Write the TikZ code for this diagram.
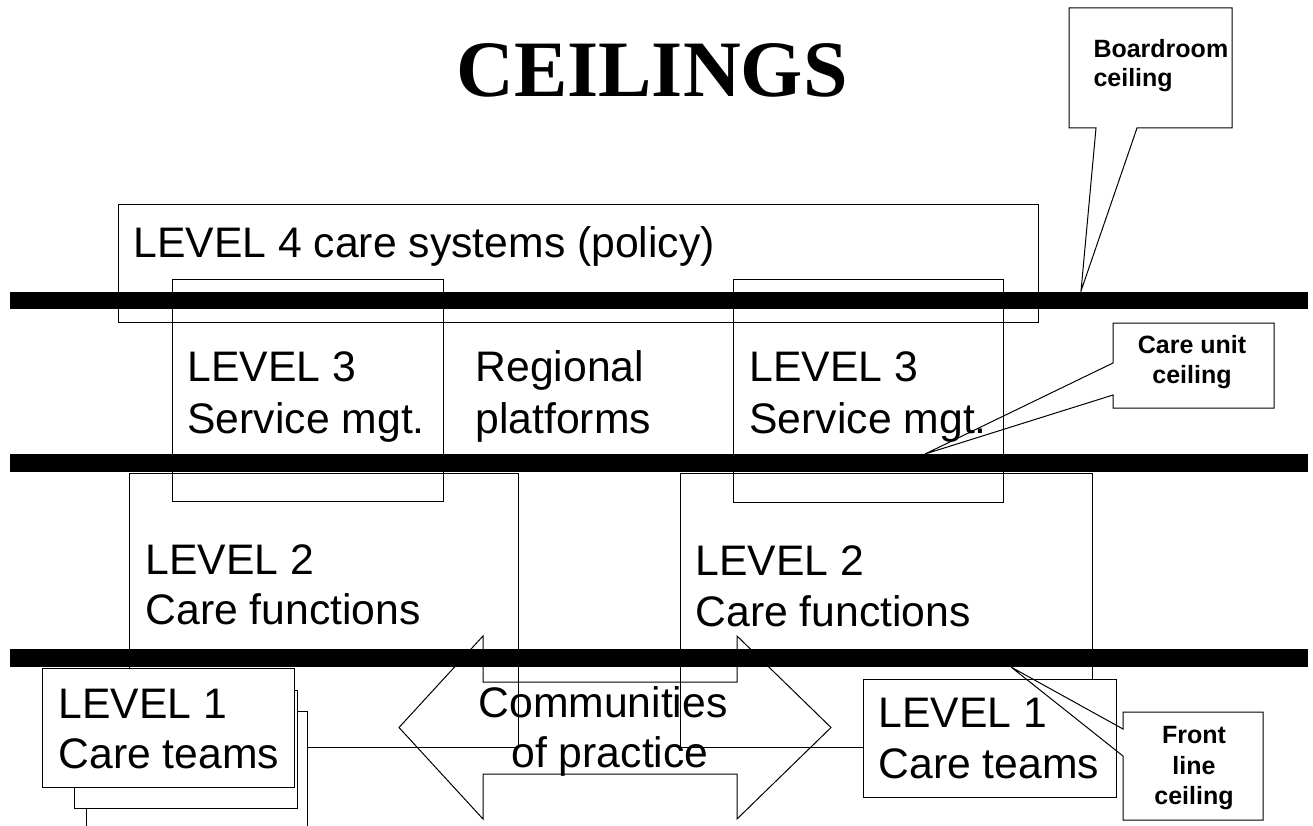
\documentclass[tikz,border=0pt]{standalone}
\usepackage{fontspec}
\setmainfont{Liberation Sans}
\newfontfamily\titlefont{Liberation Serif}
\begin{document}
\begin{tikzpicture}[x=1pt,y=-1pt,line width=1pt,
  box/.style={draw=black,line width=1pt,inner sep=0pt,outer sep=0pt,anchor=north west},
  wbox/.style={box,fill=white},
  bar/.style={fill=black,draw=none},
  big/.style={font=\fontsize{42.7}{51}\selectfont,inner sep=0pt,anchor=base west},
  bigc/.style={big,anchor=base},
  callt/.style={font=\bfseries\fontsize{25}{29}\selectfont,inner sep=0pt,anchor=base},
  callout/.style={draw=black,line width=1pt,line join=miter}]
\useasboundingbox (0,0) rectangle (1313,826);
% title
\node[font=\titlefont\bfseries\fontsize{80}{90}\selectfont,inner sep=0pt,anchor=base] (title) at (652,97) {CEILINGS};
% level boxes
\node[box,minimum width=920pt,minimum height=117pt] (l4) at (118,205) {};
\node[box,minimum width=271pt,minimum height=222pt] (l3a) at (172,279) {};
\node[box,minimum width=270pt,minimum height=223pt] (l3b) at (733,279) {};
\node[box,minimum width=389pt,minimum height=274pt] (l2a) at (129,473) {};
\node[box,minimum width=412pt,minimum height=274pt] (l2b) at (680,473) {};
% double arrow
\draw[line join=miter] (399,727.5) -- (483,636) -- (483,682) -- (737,682) -- (737,636)
  -- (831,727.5) -- (737,819) -- (737,774) -- (483,774) -- (483,819) -- cycle;
% ceilings (bars)
\fill[bar] (10,292) rectangle (1308,309);
\fill[bar] (10,454) rectangle (1308,472);
\fill[bar] (10,649) rectangle (1308,667);
% level 1 boxes
\node[wbox,minimum width=221pt,minimum height=130pt] (l1c) at (86,711) {};
\node[wbox,minimum width=223pt,minimum height=118pt] (l1b) at (74,690) {};
\node[wbox,minimum width=252pt,minimum height=119pt] (l1a) at (42,668) {};
\node[wbox,minimum width=253pt,minimum height=118pt] (l1r) at (863,679) {};
% callouts
\coordinate (tipA) at (1081,291);
\coordinate (tipB) at (925,454);
\coordinate (tipC) at (1011,667);
\draw[callout] (1069,8) -- (1232,8) -- (1232,128) -- (1137,128) -- (tipA) -- (1096,128) -- (1069,128) -- cycle;
\draw[callout] (1113,323) -- (1274,323) -- (1274,408) -- (1113,408) -- (1113,395) -- (tipB) -- (1113,363) -- cycle;
\draw[callout] (1123,712) -- (1263,712) -- (1263,820) -- (1123,820) -- (1123,756) -- (tipC) -- (1123,729) -- cycle;
\node[callt,anchor=base west] (bA1) at (1093,58) {Boardroom};
\node[callt,anchor=base west] (bA2) at (1093,87) {ceiling};
\node[callt] (bB1) at (1192,353) {Care unit};
\node[callt] (bB2) at (1192,383) {ceiling};
\node[callt] (bC1) at (1194,743) {Front};
\node[callt] (bC2) at (1194,774) {line};
\node[callt] (bC3) at (1194,804) {ceiling};
% texts
\node[big] (t4) at (133,257) {LEVEL 4 care systems (policy)};
\node[big] (t3a1) at (187,381) {LEVEL 3};
\node[big] (t3a2) at (187,433) {Service mgt.};
\node[big] (tr1) at (475,381) {Regional};
\node[big] (tr2) at (475,433) {platforms};
\node[big] (t3b1) at (749,381) {LEVEL 3};
\node[big] (t3b2) at (749,433) {Service mgt.};
\node[big] (t2a1) at (145,574) {LEVEL 2};
\node[big] (t2a2) at (145,624) {Care functions};
\node[big] (t2b1) at (695,575) {LEVEL 2};
\node[big] (t2b2) at (695,626) {Care functions};
\node[bigc] (tc1) at (603,717) {Communities};
\node[bigc] (tc2) at (610,767) {of practice};
\node[big] (t1a1) at (58,718) {LEVEL 1};
\node[big] (t1a2) at (58,768) {Care teams};
\node[big] (t1r1) at (878,727) {LEVEL 1};
\node[big] (t1r2) at (878,778) {Care teams};
\end{tikzpicture}
\end{document}
